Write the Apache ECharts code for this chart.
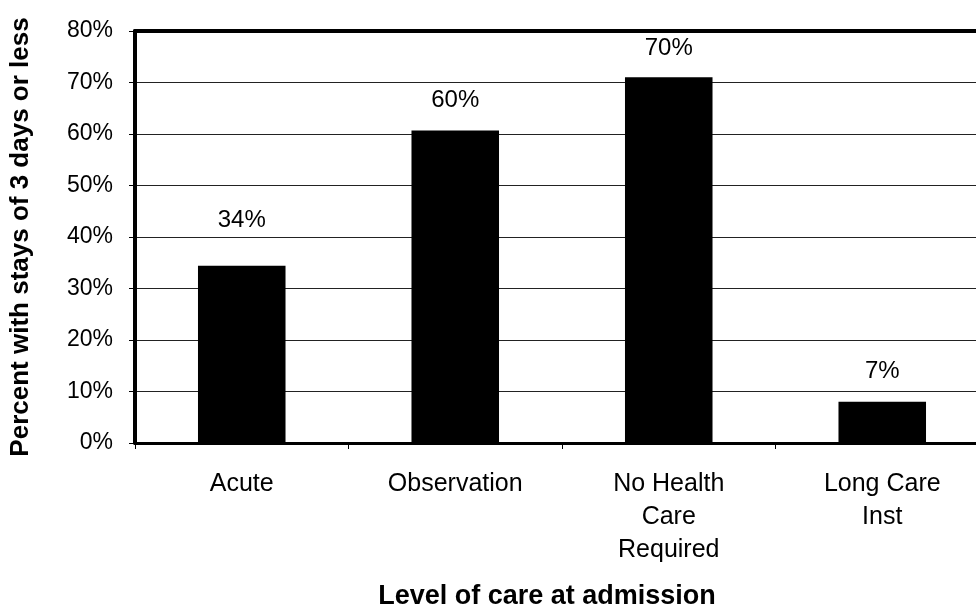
<!DOCTYPE html>
<html><head><meta charset="utf-8">
<script src="https://cdn.jsdelivr.net/npm/echarts@6/dist/echarts.min.js"></script>
<style>html,body{margin:0;padding:0;background:#fff;overflow:hidden;width:976px;height:615px}#c{width:990px;height:615px}</style>
</head><body><div id="c"></div>
<script>
const categories = ['Acute', 'Observation', 'No Health\nCare\nRequired', 'Long Care\nInst'];
const values = [34.4, 60.7, 71, 8];
const valueLabels = ['34%', '60%', '70%', '7%'];
const labelGaps = [33, 18, 17, 18];
const yTicks = [0, 10, 20, 30, 40, 50, 60, 70, 80];

const chart = echarts.init(document.getElementById('c'), null, {renderer: 'canvas'});
const font = 'Arial, "Liberation Sans", sans-serif';
chart.setOption({
  animation: false,
  backgroundColor: '#fff',
  grid: {left: 135, right: 1, top: 31, height: 412, containLabel: false},
  xAxis: [{
    type: 'category', data: categories, position: 'bottom',
    axisLine: {lineStyle: {color: '#000', width: 3}},
    axisTick: {show: true, length: 6, lineStyle: {color: '#000', width: 1}},
    axisLabel: {color: '#000', fontSize: 25, fontFamily: font, margin: 25, lineHeight: 33, interval: 0}
  }, {
    type: 'category', data: categories, position: 'top',
    axisLine: {lineStyle: {color: '#000', width: 4}},
    axisTick: {show: false}, axisLabel: {show: false}
  }],
  yAxis: {
    type: 'value', min: 0, max: 80, interval: 10,
    axisLine: {show: true, lineStyle: {color: '#000', width: 4}},
    axisTick: {show: true, length: 6, lineStyle: {color: '#000'}},
    axisLabel: {color: '#000', fontSize: 23, fontFamily: font, margin: 22,
      formatter: v => yTicks.includes(v) ? v + '%' : ''},
    splitLine: {show: true, lineStyle: {color: '#222', width: 1}},
    name: 'Percent with stays of 3 days or less', nameLocation: 'middle', nameGap: 101,
    nameTextStyle: {color: '#000', fontSize: 26, fontWeight: 'bold', fontFamily: font}
  },
  graphic: [{
    type: 'text', x: 547, y: 597,
    style: {text: 'Level of care at admission', fill: '#000', font: 'bold 27px ' + font,
      textAlign: 'center', textVerticalAlign: 'middle'}
  }],
  series: [{
    type: 'bar', xAxisIndex: 0, barWidth: '41%',
    itemStyle: {color: '#000'},
    data: values.map((v, i) => ({
      value: v,
      label: {show: true, position: 'top', distance: labelGaps[i], formatter: valueLabels[i],
        color: '#000', fontSize: 24, fontFamily: font}
    }))
  }]
});
</script></body></html>
